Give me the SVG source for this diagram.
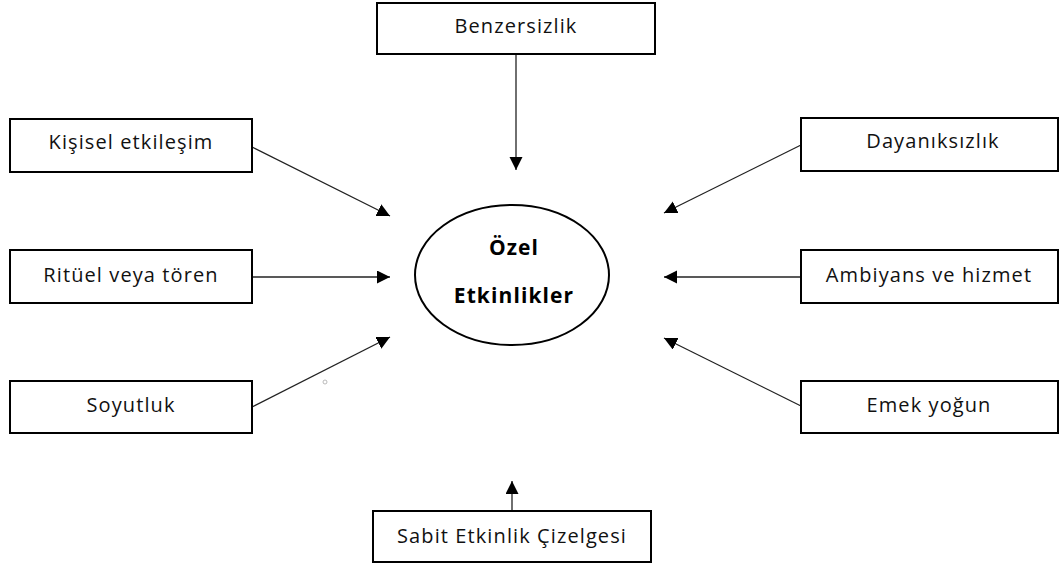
<svg xmlns="http://www.w3.org/2000/svg" width="1060" height="566" viewBox="0 0 1060 566">
<style>
.box{fill:#fff;stroke:#000;stroke-width:2}
.lbl{font-family:"Open Sans","Liberation Sans",sans-serif;font-size:20px;letter-spacing:1.1px;fill:#111;text-anchor:middle}
.ctr{font-family:"Open Sans","Liberation Sans",sans-serif;font-size:21px;letter-spacing:1.1px;font-weight:bold;fill:#000;text-anchor:middle}
.con{stroke:#222;stroke-width:1.3;fill:none;marker-end:url(#ah)}
</style>
<defs>
<marker id="ah" markerUnits="userSpaceOnUse" markerWidth="14" markerHeight="14" refX="13" refY="6.5" orient="auto">
<path d="M0,0 L13,6.5 L0,13 Z" fill="#000"/>
</marker>
</defs>
<rect width="1060" height="566" fill="#fff"/>
<g id="connectors">
<line class="con" x1="516" y1="54" x2="516" y2="170"/>
<line class="con" x1="252" y1="147" x2="390" y2="216"/>
<line class="con" x1="252" y1="277" x2="390" y2="277"/>
<line class="con" x1="252" y1="407" x2="390" y2="337"/>
<line class="con" x1="801" y1="145" x2="664" y2="213"/>
<line class="con" x1="801" y1="277" x2="664" y2="277"/>
<line class="con" x1="801" y1="406" x2="664" y2="338"/>
<line class="con" x1="512" y1="511" x2="512" y2="481"/>
</g>
<circle cx="325" cy="382" r="2" fill="none" stroke="#aaa" stroke-width="0.8"/>
<g id="center">
<ellipse cx="512" cy="275" rx="97" ry="70" fill="#fff" stroke="#000" stroke-width="2"/>
<text class="ctr" x="514" y="255">Özel</text>
<text class="ctr" x="514" y="303">Etkinlikler</text>
</g>
<g id="n-benzersizlik"><rect class="box" x="377" y="3" width="278" height="51"/><text class="lbl" x="516" y="33">Benzersizlik</text></g>
<g id="n-kisisel"><rect class="box" x="10" y="119" width="242" height="53"/><text class="lbl" x="131" y="149">Kişisel etkileşim</text></g>
<g id="n-rituel"><rect class="box" x="10" y="250" width="242" height="53"/><text class="lbl" x="131" y="282">Ritüel veya tören</text></g>
<g id="n-soyutluk"><rect class="box" x="10" y="381" width="242" height="52"/><text class="lbl" x="131" y="412">Soyutluk</text></g>
<g id="n-dayaniksizlik"><rect class="box" x="801" y="118" width="257" height="53"/><text class="lbl" x="933" y="148">Dayanıksızlık</text></g>
<g id="n-ambiyans"><rect class="box" x="801" y="250" width="257" height="53"/><text class="lbl" x="929" y="282">Ambiyans ve hizmet</text></g>
<g id="n-emek"><rect class="box" x="801" y="381" width="257" height="52"/><text class="lbl" x="929" y="412">Emek yoğun</text></g>
<g id="n-sabit"><rect class="box" x="373" y="511" width="278" height="51"/><text class="lbl" x="512" y="543">Sabit Etkinlik Çizelgesi</text></g>
</svg>
